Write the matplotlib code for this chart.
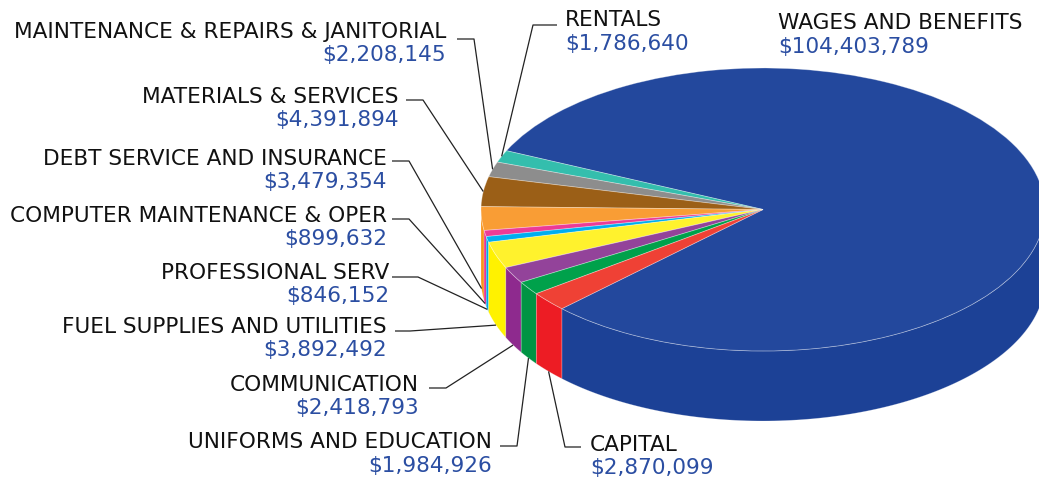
import numpy as np
import matplotlib
matplotlib.use("Agg")
import matplotlib.pyplot as plt
from matplotlib.transforms import Affine2D

categories = ["WAGES AND BENEFITS", "RENTALS", "MAINTENANCE & REPAIRS & JANITORIAL",
              "MATERIALS & SERVICES", "DEBT SERVICE AND INSURANCE",
              "COMPUTER MAINTENANCE & OPER", "PROFESSIONAL SERV",
              "FUEL SUPPLIES AND UTILITIES", "COMMUNICATION",
              "UNIFORMS AND EDUCATION", "CAPITAL"]
values = [104403789, 1786640, 2208145, 4391894, 3479354, 899632, 846152,
          3892492, 2418793, 1984926, 2870099]
top_colors = ["#23489D", "#34BEAD", "#8D8D8D", "#9B5F17", "#F99D35", "#EC3B96",
              "#00AEEF", "#FFF22D", "#93439A", "#00A14B", "#EF4135"]
side_colors = ["#1C4196", "#2CB3A2", "#808080", "#8E5513", "#F7941D", "#E8228A",
               "#00A6E6", "#FFF200", "#8E2A8E", "#009444", "#ED1C24"]

W, H = 1039, 482
CX, CY = 763, 482 - 209.5
RX, RY = 282, 141.5
DEPTH = 70

fig = plt.figure(figsize=(W / 100, H / 100), dpi=100)
ax = fig.add_axes([0, 0, 1, 1])

wedges, _ = ax.pie(values, colors=top_colors, startangle=224.5, counterclock=True,
                   radius=RX, center=(CX, CY), frame=True,
                   wedgeprops=dict(edgecolor=(1, 1, 1, 0.35), linewidth=0.6))
squash = Affine2D().translate(-CX, -CY).scale(1, RY / RX).translate(CX, CY)

# side walls (front half)
for w, sc in zip(wedges, side_colors):
    t1, t2 = w.theta1, w.theta2
    for lo, hi in [(180, 360), (540, 720)]:
        a, b = max(t1, lo), min(t2, hi)
        if b > a:
            ts = np.radians(np.linspace(a, b, 120))
            xt = CX + RX * np.cos(ts)
            yt = CY + RY * np.sin(ts)
            xs = np.concatenate([xt, xt[::-1]])
            ys = np.concatenate([yt, yt[::-1] - DEPTH])
            ax.fill(xs, ys, facecolor=sc, edgecolor=(1, 1, 1, 0.3), linewidth=0.5,
                    zorder=1)

for w in wedges:
    w.set_transform(squash + ax.transData)
    w.set_zorder(2)

# labels: (text x, name y, value y, ha, elbow points in pixel coords)
layout = {
    "WAGES AND BENEFITS": (778, 23, 47, "left", None),
    "RENTALS": (565, 20, 44, "left", [(557, 25), (533, 25)]),
    "MAINTENANCE & REPAIRS & JANITORIAL": (446, 32, 55, "right", [(457, 39), (474, 39)]),
    "MATERIALS & SERVICES": (399, 97, 120, "right", [(406, 100), (423, 100)]),
    "DEBT SERVICE AND INSURANCE": (387, 159, 182, "right", [(392, 161), (409, 161)]),
    "COMPUTER MAINTENANCE & OPER": (387, 216, 239, "right", [(392, 219), (409, 219)]),
    "PROFESSIONAL SERV": (389, 273, 296, "right", [(392, 277), (418, 277)]),
    "FUEL SUPPLIES AND UTILITIES": (387, 327, 350, "right", [(395, 331), (410, 331)]),
    "COMMUNICATION": (419, 385, 408, "right", [(429, 388), (446, 388)]),
    "UNIFORMS AND EDUCATION": (492, 442, 466, "right", [(500, 446), (517, 446)]),
    "CAPITAL": (590, 445, 468, "left", [(581, 447), (565, 447)]),
}

FS = 15.6
for w, cat, val in zip(wedges, categories, values):
    x, yn, yv, ha, elbow = layout[cat]
    ax.text(x, H - yn, cat, ha=ha, va="center", fontsize=FS, color="#111111",
            family="DejaVu Sans", zorder=5)
    ax.text(x, H - yv, "${:,}".format(val), ha=ha, va="center", fontsize=FS,
            color="#2B4EA2", family="DejaVu Sans", zorder=5)
    if elbow is not None:
        mid = ((w.theta1 + w.theta2) / 2) % 360
        r = np.radians(mid)
        ex = CX + RX * np.cos(r)
        ey = CY + RY * np.sin(r)
        if 180 < mid < 360:
            ey -= DEPTH
        px = [p[0] for p in elbow] + [ex]
        py = [H - p[1] for p in elbow] + [ey]
        ax.plot(px, py, color="#222222", linewidth=0.9, zorder=4,
                solid_capstyle="butt")

ax.set_xlim(0, W)
ax.set_ylim(0, H)
ax.set_aspect("auto")
ax.axis("off")
fig.savefig("out.png", dpi=100)
